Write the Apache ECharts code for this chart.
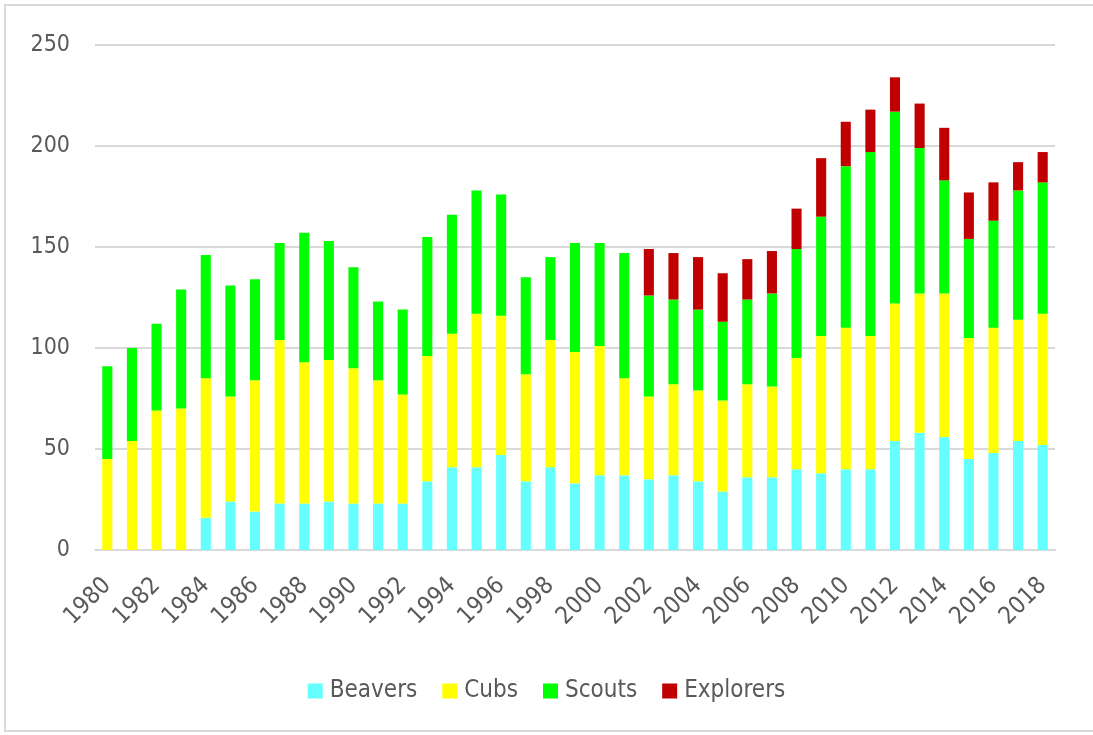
<!DOCTYPE html>
<html><head><meta charset="utf-8">
<script src="https://cdn.jsdelivr.net/npm/echarts@6/dist/echarts.min.js"></script>
<style>html,body{margin:0;padding:0;background:#fff}#c{width:1093px;height:735px}</style>
</head><body><div id="c"></div>
<script>
const years = [];
for (let y = 1980; y <= 2018; y++) years.push(String(y));
const beavers = [0,0,0,0,16,24,19,23,23,24,23,23,23,34,41,41,47,34,41,33,37,37,35,37,34,29,36,36,40,38,40,40,54,58,56,45,48,54,52];
const cubs = [45,54,69,70,69,52,65,81,70,70,67,61,54,62,66,76,69,53,63,65,64,48,41,45,45,45,46,45,55,68,70,66,68,69,71,60,62,60,65];
const scouts = [46,46,43,59,61,55,50,48,64,59,50,39,42,59,59,61,60,48,41,54,51,62,50,42,40,39,42,46,54,59,80,91,95,72,56,49,53,64,65];
const explorers = [0,0,0,0,0,0,0,0,0,0,0,0,0,0,0,0,0,0,0,0,0,0,23,23,26,24,20,21,20,29,22,21,17,22,26,23,19,14,15];
const yTicks = [0,50,100,150,200,250];

const font = '"DejaVu Sans Condensed","Liberation Sans",sans-serif';
const chart = echarts.init(document.getElementById('c'));
function s(name, data, color){
  return {name, type:'bar', stack:'t', data, barWidth:'41%', itemStyle:{color}, emphasis:{disabled:true}};
}
chart.setOption({
  animation:false,
  graphic:[{type:'rect', shape:{x:5,y:5,width:1100,height:726}, style:{fill:'none', stroke:'#d9d9d9', lineWidth:2}, silent:true}],
  grid:{left:95, right:38, top:45, bottom:185, containLabel:false},
  legend:{top:674, left:'center', itemWidth:15, itemHeight:15, itemGap:25, icon:'rect',
    textStyle:{fontFamily:font, fontSize:24, color:'#595959', padding:[0,0,0,2]},
    data:['Beavers','Cubs','Scouts','Explorers']},
  xAxis:{type:'category', data:years,
    axisLine:{lineStyle:{color:'#d9d9d9', width:2}}, axisTick:{show:false},
    axisLabel:{interval:1, rotate:45, fontFamily:font, fontSize:24, color:'#595959', margin:32}},
  yAxis:{type:'value', min:yTicks[0], max:yTicks[yTicks.length-1], interval:50,
    axisLine:{show:false}, axisTick:{show:false},
    splitLine:{lineStyle:{color:'#d9d9d9', width:2}},
    axisLabel:{fontFamily:font, fontSize:23, color:'#595959', margin:25}},
  series:[s('Beavers',beavers,'#66FFFF'), s('Cubs',cubs,'#FFFF00'), s('Scouts',scouts,'#00FF00'), s('Explorers',explorers,'#C00000')]
});
</script></body></html>
